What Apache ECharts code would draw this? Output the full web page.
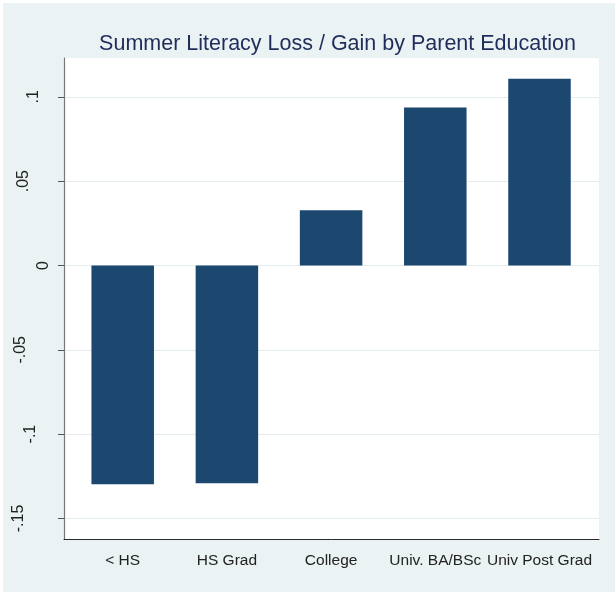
<!DOCTYPE html>
<html>
<head>
<meta charset="utf-8">
<script src="https://cdn.jsdelivr.net/npm/echarts@6/dist/echarts.min.js"></script>
<style>
  html, body { margin: 0; padding: 0; background: #fff; }
  #chart { position: absolute; left: 3px; top: 3px; width: 612px; height: 589px; }
</style>
</head>
<body>
<div id="chart"></div>
<script>
// data
var categories = ['< HS', 'HS Grad', 'College', 'Univ. BA/BSc', 'Univ Post Grad'];
var values = [-0.1298, -0.1292, 0.0328, 0.0937, 0.1107];
var yTicks = [-0.15, -0.1, -0.05, 0, 0.05, 0.1];
var yTickLabels = ['-.15', '-.1', '-.05', '0', '.05', '.1'];
var yMin = -0.1622;
var yMax = 0.1230;

// the rotated y labels sit a bit further from the axis the longer they are
var labelPad = [25, 13, 23, 0, 20, 10];
var rich = {};
labelPad.forEach(function (p, i) {
  rich['p' + i] = { padding: [0, 0, p, 0] };
});

function tickIndex(v) {
  for (var i = 0; i < yTicks.length; i++) {
    if (Math.abs(yTicks[i] - v) < 1e-9) return i;
  }
  return -1;
}

var FONT = '"Liberation Sans", Arial, sans-serif';

var chart = echarts.init(document.getElementById('chart'));

var option = {
  backgroundColor: '#eaf2f3',
  title: {
    text: 'Summer Literacy Loss / Gain by Parent Education',
    left: 329.5,
    textAlign: 'center',
    top: 25,
    textStyle: {
      fontFamily: FONT,
      fontSize: 21.5,
      fontWeight: 'normal',
      color: '#1f2d5a'
    }
  },
  grid: [
    // frame: white plot area, y axis, gridlines, x axis line
    { left: 61, right: 16, top: 55, bottom: 53, show: true, backgroundColor: '#fff', borderWidth: 0 },
    // bars
    { left: 67.6, right: 23.4, top: 55, bottom: 53 }
  ],
  xAxis: [
    {
      gridIndex: 0, type: 'value', min: 0, max: 1,
      axisLine: { show: true, onZero: false, lineStyle: { color: '#2b2b2b', width: 1 } },
      axisTick: { show: false }, axisLabel: { show: false }, splitLine: { show: false }
    },
    {
      gridIndex: 1, type: 'category', data: categories,
      axisLine: { show: false }, axisTick: { show: false },
      axisLabel: {
        interval: 0,
        margin: 14,
        fontFamily: FONT,
        fontSize: 15.5,
        color: '#222'
      }
    }
  ],
  yAxis: [
    {
      gridIndex: 0, type: 'value', min: yMin, max: yMax,
      axisLine: { show: true, lineStyle: { color: '#777', width: 1.2 } },
      axisTick: { show: true, length: 6, customValues: yTicks, lineStyle: { color: '#555' } },
      axisLabel: {
        customValues: yTicks,
        rotate: 90,
        margin: 12,
        fontFamily: FONT,
        fontSize: 16,
        color: '#222',
        formatter: function (v) {
          var i = tickIndex(v);
          return '{p' + i + '|' + yTickLabels[i] + '}';
        },
        rich: rich
      },
      splitLine: { show: true, lineStyle: { color: '#e3ecef', width: 1.2 } }
    },
    {
      gridIndex: 1, type: 'value', min: yMin, max: yMax, show: false
    }
  ],
  series: [{
    type: 'bar',
    xAxisIndex: 1,
    yAxisIndex: 1,
    data: values,
    barWidth: '60%',
    itemStyle: { color: '#1c4870' },
    silent: true
  }],
  animation: false
};

chart.setOption(option);
</script>
</body>
</html>
